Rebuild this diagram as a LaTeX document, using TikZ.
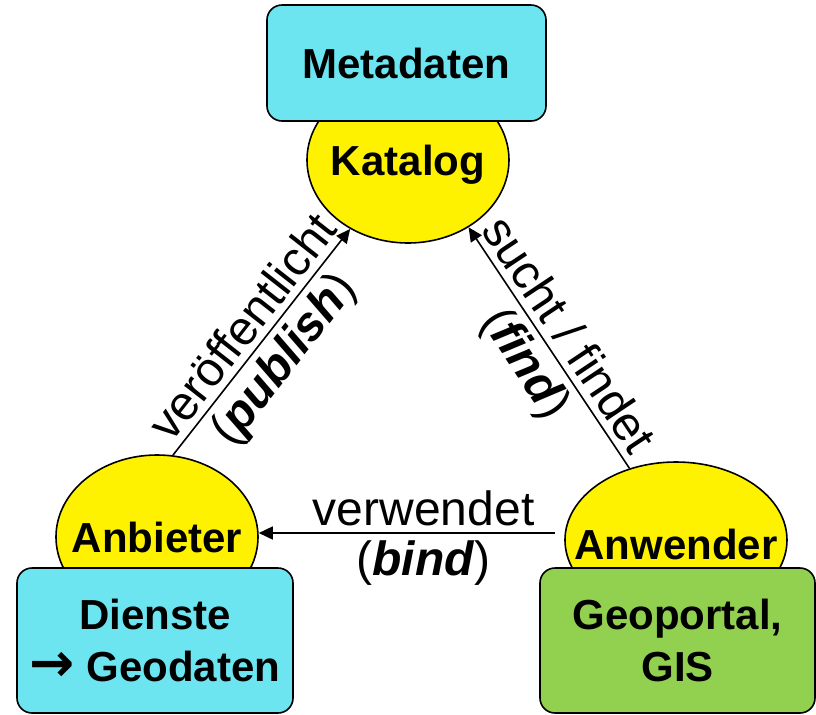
\documentclass[tikz,border=0pt]{standalone}
\usepackage{fontspec}
\setmainfont{Liberation Sans}
\newfontfamily\arrowfont{DejaVu Sans}
\usetikzlibrary{shapes.geometric,arrows.meta}
\definecolor{metacyan}{RGB}{108,229,240}
\definecolor{gisgreen}{RGB}{146,208,80}
\begin{document}
\begin{tikzpicture}[x=0.5pt,y=-0.5pt,>={Triangle[length=7pt,width=6.5pt]},line width=0.8pt,
role/.style = {draw, ellipse, fill = yellow, inner sep = 0pt},
rolefont/.style = {font = \fontsize{21}{26}\selectfont\bfseries, text depth = 0pt},
box/.style = {draw, rounded corners = 7.5pt, inner sep = 0pt, align = center, font = \fontsize{21}{26}\selectfont\bfseries},
lbl/.style = {font = \fontsize{24}{28}\selectfont, sloped},]
\useasboundingbox (0,0) rectangle (816,714);
\node (K) at (408,160)[role, minimum width = 101pt, minimum height = 83pt, label = {[rolefont]center:Katalog}] {};
\node (AB) at (157,537)[role, minimum width = 101pt, minimum height = 82pt, label = {[rolefont]center:Anbieter}] {};
\node (AW) at (676,540)[role, minimum width = 111pt, minimum height = 78pt, label = {[rolefont, yshift = -2pt]center:Anwender}] {};
\node (M) at (406.5,63)[box, fill = metacyan, minimum width = 139.5pt, minimum height = 58pt] {Metadaten};
\node (D) at (155,640.5)[box, fill = metacyan, minimum width = 138pt, minimum height = 72.5pt] {Dienste\\{\arrowfont\fontsize{27}{26}\selectfont →} Geodaten};
\node (G) at (677.5,640.5)[box, fill = gisgreen, minimum width = 137.5pt, minimum height = 72.5pt] {Geoportal,\\GIS};
\draw[->] (AB.79) -- (K.230) node[lbl, midway, above] {veröffentlicht} node[lbl, midway, below] {(\textbf{\textit{publish}})};
\draw[->] (AW.123) -- (K.312) node[lbl, midway, above] {sucht / findet} node[lbl, midway, below] {(\textbf{\textit{find}})};
\draw[->, shorten <= 4.5pt] ([yshift = 3.5pt]AW.west) -- ([yshift = 2pt]AB.east) node[lbl, pos = 0.46, above] {verwendet} node[lbl, pos = 0.46, below] {(\textbf{\textit{bind}})};
\end{tikzpicture}
\end{document}
